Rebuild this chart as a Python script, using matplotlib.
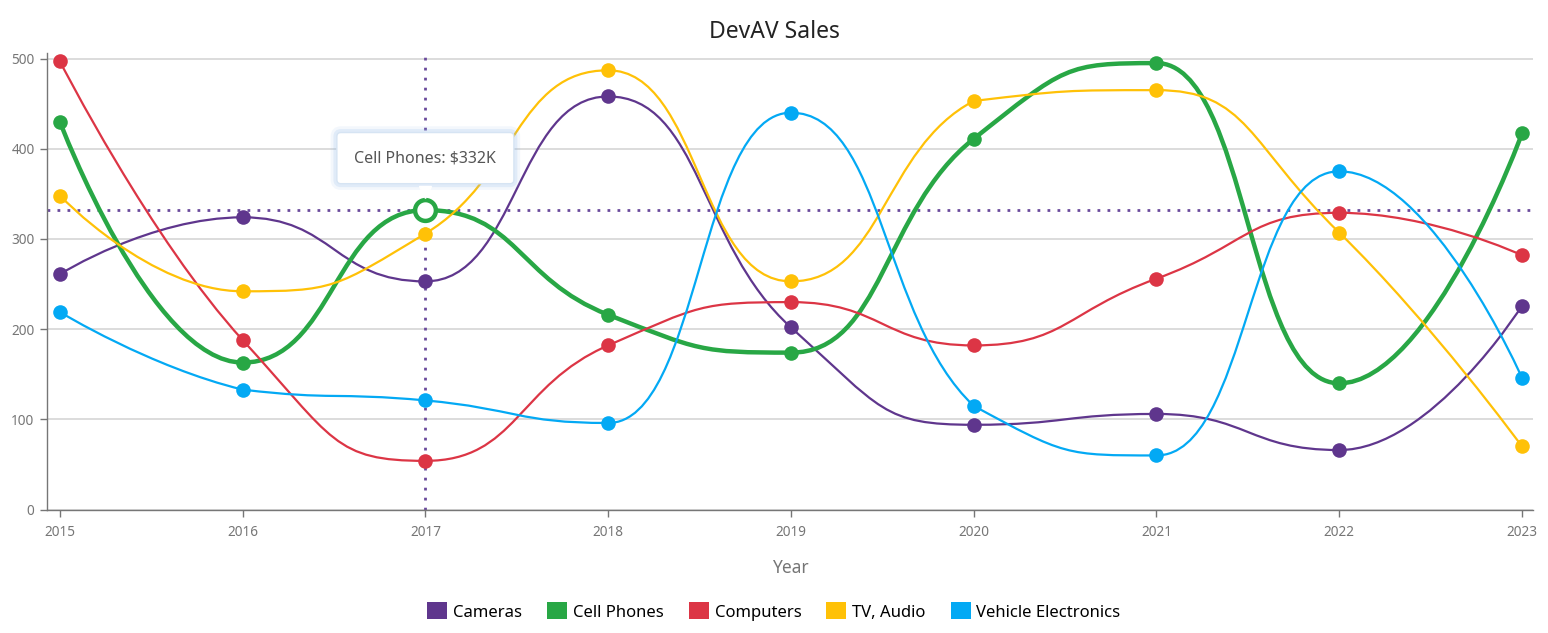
import matplotlib
matplotlib.use('Agg')
import matplotlib.pyplot as plt
from matplotlib.path import Path
from matplotlib.patches import PathPatch, Patch
from matplotlib import transforms

plt.rcParams['font.family'] = ['Noto Sans', 'DejaVu Sans']

years = [2015, 2016, 2017, 2018, 2019, 2020, 2021, 2022, 2023]
cameras = [261, 324, 253, 458, 202, 94, 106, 66, 226]
cell_phones = [430, 163, 332, 216, 174, 411, 495, 140, 417]
computers = [497, 188, 54, 182, 230, 182, 256, 329, 282]
tv_audio = [348, 242, 306, 487, 253, 453, 465, 307, 70]
vehicle = [219, 133, 121, 96, 440, 115, 60, 375, 146]

names = ['Cameras', 'Cell Phones', 'Computers', 'TV, Audio', 'Vehicle Electronics']
values = [cameras, cell_phones, computers, tv_audio, vehicle]
colors = ['#5f368d', '#28a745', '#dc3545', '#ffc107', '#03a9f4']

hover_series = 'Cell Phones'
hover_year = 2017
hover_value = cell_phones[years.index(hover_year)]


def spline_path(x, y, k=0.5):
    # bezier spline, flat tangents at local extrema
    n = len(x)
    left = [(x[0], y[0])] * n
    right = [(x[0], y[0])] * n
    left[-1] = right[-1] = (x[-1], y[-1])
    for i in range(1, n - 1):
        dl = (x[i] - x[i - 1]) * k
        dr = (x[i + 1] - x[i]) * k
        if (y[i] - y[i - 1]) * (y[i + 1] - y[i]) <= 0:
            m = 0.0
        else:
            m = (y[i + 1] - y[i - 1]) / (x[i + 1] - x[i - 1])
        yl = y[i] - m * dl
        yr = y[i] + m * dr
        lo, hi = sorted((y[i - 1], y[i]))
        yl = min(max(yl, lo), hi)
        lo, hi = sorted((y[i], y[i + 1]))
        yr = min(max(yr, lo), hi)
        left[i] = (x[i] - dl, yl)
        right[i] = (x[i] + dr, yr)
    verts = [(x[0], y[0])]
    codes = [Path.MOVETO]
    for i in range(n - 1):
        verts += [right[i], left[i + 1], (x[i + 1], y[i + 1])]
        codes += [Path.CURVE4] * 3
    return Path(verts, codes)


fig = plt.figure(figsize=(15.48, 6.33), dpi=100)
ax = fig.add_axes([0.0304, 0.195, 0.9599, 0.721])

for name, vals, c in zip(names, values, colors):
    lw = 3.2 if name == hover_series else 1.6
    ax.add_patch(PathPatch(spline_path(years, vals), fill=False, ec=c, lw=lw, zorder=3,
                           capstyle='round', joinstyle='round'))
    ax.plot(years, vals, 'o', color=c, ms=10.5, mec='none', zorder=4)

# crosshair
cross_c = '#6a4a9c'
ax.axvline(hover_year, color=cross_c, lw=2.0, ls=(0, (1, 2.6)), zorder=2.5)
ax.axhline(hover_value, color=cross_c, lw=2.0, ls=(0, (1, 2.6)), zorder=2.5)

# hovered point
ax.plot([hover_year], [hover_value], 'o', ms=15, mfc='white', mec=colors[1], mew=3.2, zorder=5)

# tooltip (soft glow + box)
label = f'{hover_series}: ${hover_value}K'
for lw_g, a in [(9, 0.10), (5, 0.18)]:
    ax.annotate(label, xy=(hover_year, hover_value), xytext=(0, 52),
                textcoords='offset pixels', ha='center', va='center',
                fontsize=11.5, color='none', zorder=6,
                bbox=dict(boxstyle='round,pad=1.1,rounding_size=0.25', fc='none',
                          ec=(0.55, 0.72, 0.92, a), lw=lw_g))
ax.annotate(label, xy=(hover_year, hover_value),
            xytext=(0, 52), textcoords='offset pixels', ha='center', va='center',
            fontsize=11.5, color='#555555', zorder=7,
            bbox=dict(boxstyle='round,pad=1.1,rounding_size=0.25', fc='white',
                      ec='#d6e4f3', lw=1.0))
tip = transforms.offset_copy(ax.transData, fig=fig, x=0, y=18, units='dots')
ax.plot([hover_year], [hover_value], marker='v', ms=9, mfc='white', mec='white',
        transform=tip, zorder=8)

ax.set_xlim(2014.93, 2023.06)
ax.set_ylim(0, 506)
ax.set_xticks(years)
ax.set_yticks([0, 100, 200, 300, 400, 500])
ax.grid(axis='y', color='#d9d9d9', lw=1.3, zorder=0)
ax.set_axisbelow(True)
for s in ['top', 'right']:
    ax.spines[s].set_visible(False)
for s in ['left', 'bottom']:
    ax.spines[s].set_color('#767676')
    ax.spines[s].set_linewidth(1.0)
ax.tick_params(colors='#767676', labelsize=9.8, length=5, width=1.0)
ax.tick_params(axis='x', pad=6)
ax.tick_params(axis='y', pad=4)

ax.set_xlabel('Year', fontsize=12.5, color='#767676', labelpad=14)
fig.suptitle('DevAV Sales', y=0.969, fontsize=16.5, color='#232323')

handles = [Patch(fc=c, ec='none') for c in colors]
fig.legend(handles, names, loc='center', bbox_to_anchor=(0.5, 0.034), ncol=5,
           frameon=False, fontsize=12, handlelength=1.2, handleheight=1.2,
           handletextpad=0.35, columnspacing=1.5)

fig.savefig('out.png', dpi=100)
